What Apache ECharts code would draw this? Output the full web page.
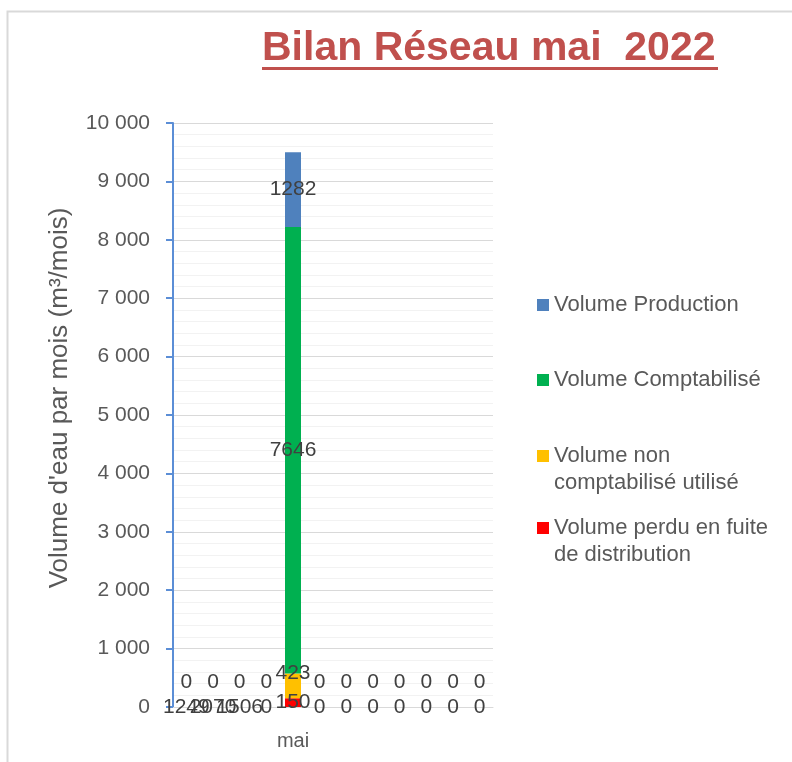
<!DOCTYPE html>
<html>
<head>
<meta charset="utf-8">
<script src="https://cdn.jsdelivr.net/npm/echarts@6/dist/echarts.min.js"></script>
<style>html,body{margin:0;padding:0;background:#fff}#c{width:792px;height:762px}</style>
</head>
<body>
<div id="c"></div>
<script>
// ---- data ----
var categories = ['', '', '', '', 'mai', '', '', '', '', '', '', ''];
var seriesNames = ['Volume Production', 'Volume Comptabilisé', 'Volume non comptabilisé utilisé', 'Volume perdu en fuite de distribution'];
var legendLines = ['Volume Production', 'Volume Comptabilisé', 'Volume non\ncomptabilisé utilisé', 'Volume perdu en fuite\nde distribution'];
var perdu = [0, 0, 0, 0, 150, 0, 0, 0, 0, 0, 0, 0];
var nonComptabilise = [0, 0, 0, 0, 423, 0, 0, 0, 0, 0, 0, 0];
var comptabilise = [0, 0, 0, 0, 7646, 0, 0, 0, 0, 0, 0, 0];
var production = [0, 0, 0, 0, 1282, 0, 0, 0, 0, 0, 0, 0];
var perduLabels = ['1249', '2070', '1506', '0', '150', '0', '0', '0', '0', '0', '0', '0'];
var yTicks = [0, 1000, 2000, 3000, 4000, 5000, 6000, 7000, 8000, 9000, 10000];

var FONT = '"Liberation Sans", Arial, sans-serif';
var colors = ['#4F81BD', '#00B050', '#FFC000', '#FF0000'];
var labelColor = '#404040';

function fmtThousands(v) {
  return String(v).replace(/\B(?=(\d{3})+(?!\d))/g, ' ');
}

var chart = echarts.init(document.getElementById('c'), null, {renderer: 'canvas'});

var baseLabel = {show: true, position: 'inside', color: labelColor, fontFamily: FONT, fontSize: 21};

function hideZero(arr) {
  return arr.map(function (v) {
    return {value: v, label: {show: v !== 0}};
  });
}

// legend: square icon aligned with the first text line
var singleIcon = 'path://M0,0h12v12h-12z';
var multiIcon = 'path://M0,0h12v12h-12zM0,39h0.01v0.01h-0.01z';

var option = {
  animation: false,
  backgroundColor: '#fff',
  title: {
    text: 'Bilan Réseau mai  2022',
    left: 262, top: 28, padding: 0,
    textStyle: {color: '#C0504D', fontFamily: FONT, fontWeight: 'bold', fontSize: 41}
  },
  graphic: [
    {type: 'rect', shape: {x: 7.5, y: 11.5, width: 900, height: 900}, style: {fill: 'none', stroke: '#D9D9D9', lineWidth: 2}, z: -10, silent: true},
    {type: 'line', shape: {x1: 262, y1: 68.5, x2: 718, y2: 68.5}, style: {stroke: '#C0504D', lineWidth: 3}}
  ],
  legend: [0, 1, 2, 3].map(function (i) {
    var multi = legendLines[i].indexOf('\n') >= 0;
    var tops = [291.5, 366.5, 442.5, 514.5];
    return {
      data: [seriesNames[i]],
      orient: 'vertical', left: 537, top: tops[i], padding: 0,
      icon: multi ? multiIcon : singleIcon, itemWidth: 12, itemHeight: multi ? 39 : 12,
      selectedMode: false,
      formatter: function () { return legendLines[i]; },
      textStyle: {color: '#595959', fontFamily: FONT, fontSize: 22, lineHeight: 27}
    };
  }),
  grid: {left: 173, right: 299, top: 123, bottom: 55, containLabel: false},
  xAxis: {
    type: 'category', data: categories,
    axisLine: {show: true, lineStyle: {color: '#D9D9D9', width: 1}},
    axisTick: {show: false},
    axisLabel: {interval: 0, color: '#595959', fontFamily: FONT, fontSize: 20, margin: 24}
  },
  yAxis: {
    type: 'value', min: 0, max: 10000, interval: 1000,
    name: "Volume d'eau par mois (m³/mois)", nameLocation: 'middle', nameGap: 100,
    nameTextStyle: {color: '#595959', fontFamily: FONT, fontSize: 26, padding: [0, 0, 0, 34]},
    axisLine: {show: true, lineStyle: {color: '#5B8ED6', width: 2}},
    axisTick: {show: true, inside: false, length: 7, lineStyle: {color: '#5B8ED6', width: 2}},
    axisLabel: {color: '#595959', fontFamily: FONT, fontSize: 21, margin: 23,
      formatter: function (v) { return yTicks.indexOf(v) >= 0 ? fmtThousands(v) : ''; }},
    splitLine: {show: true, lineStyle: {color: '#D9D9D9', width: 1}},
    minorTick: {show: false, splitNumber: 5},
    minorSplitLine: {show: true, lineStyle: {color: '#F2F2F2', width: 1}}
  },
  series: [
    {
      name: seriesNames[3], type: 'bar', stack: 'v', barWidth: 16,
      itemStyle: {color: colors[3]},
      data: perdu,
      label: Object.assign({}, baseLabel, {formatter: function (p) { return perduLabels[p.dataIndex]; }})
    },
    {
      name: seriesNames[2], type: 'bar', stack: 'v', barWidth: 16,
      itemStyle: {color: colors[2]},
      data: nonComptabilise.map(function (v) { return {value: v, label: {offset: [0, v === 0 ? -25 : -13]}}; }),
      label: Object.assign({}, baseLabel)
    },
    {
      name: seriesNames[1], type: 'bar', stack: 'v', barWidth: 16,
      itemStyle: {color: colors[1]},
      data: hideZero(comptabilise),
      label: Object.assign({}, baseLabel)
    },
    {
      name: seriesNames[0], type: 'bar', stack: 'v', barWidth: 16,
      itemStyle: {color: colors[0]},
      data: hideZero(production),
      label: Object.assign({}, baseLabel)
    }
  ]
};
chart.setOption(option);
</script>
</body>
</html>
